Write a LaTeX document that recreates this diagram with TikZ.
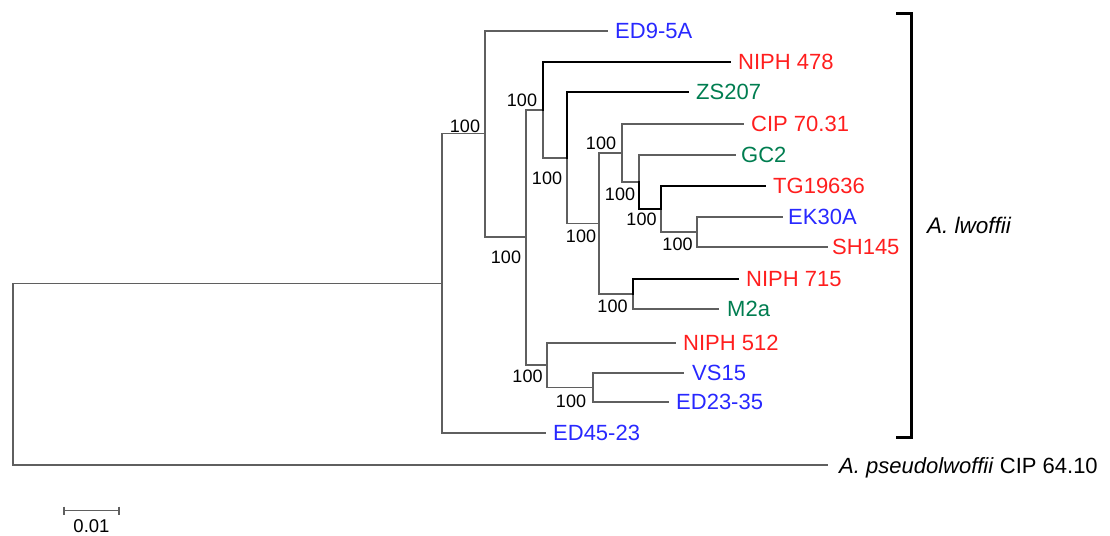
\documentclass[tikz,border=0pt]{standalone}
\usepackage{fontspec}
\setmainfont{Liberation Sans}
\usetikzlibrary{calc}
\definecolor{tblue}{RGB}{40,40,255}
\definecolor{tred}{RGB}{255,30,30}
\definecolor{tgreen}{RGB}{0,125,80}
\definecolor{tline}{RGB}{95,95,95}
\begin{document}
\begin{tikzpicture}[x=1pt,y=-1pt,
  br/.style={draw=tline,line width=1.2pt,line cap=rect},
  hb/.style={draw=black,line width=2.4pt,line cap=rect},
  leaf/.style={anchor=base west,inner sep=0pt,font=\fontsize{22}{26}\selectfont},
  boot/.style={inner sep=0pt,font=\fontsize{18}{21}\selectfont},
  brk/.style={draw=black,line width=3pt,line join=miter}]
\useasboundingbox (0,0) rectangle (1110,535);
% internal nodes
\coordinate (r)    at (13,374);
\coordinate (n442) at (442,283.5);
\coordinate (n485) at (485,133.5);
\coordinate (n526) at (526,237);
\coordinate (n543) at (543,110);
\coordinate (n567) at (567,158);
\coordinate (n599) at (599,223.5);
\coordinate (n622) at (622,153);
\coordinate (n639) at (639,182);
\coordinate (n661) at (661,209);
\coordinate (n697) at (697,232);
\coordinate (n633) at (633,294);
\coordinate (n547) at (547,365);
\coordinate (n593) at (593,387.5);
% leaf ends
\coordinate (l-ed9)  at (607,31);
\coordinate (l-n478) at (730,62);
\coordinate (l-zs)   at (688,92);
\coordinate (l-cip)  at (743,124);
\coordinate (l-gc2)  at (735,155);
\coordinate (l-tg)   at (765,186);
\coordinate (l-ek)   at (782,217);
\coordinate (l-sh)   at (827,247);
\coordinate (l-n715) at (738,279);
\coordinate (l-m2a)  at (718,309);
\coordinate (l-n512) at (675,343);
\coordinate (l-vs)   at (683,373);
\coordinate (l-ed23) at (668,402);
\coordinate (l-ed45) at (545,433);
\coordinate (l-pse)  at (827,465);
% thin branches
\draw[br] (r) |- (n442);
\draw[br] (r) |- (l-pse);
\draw[br] (n442) |- (n485);
\draw[br] (n442) |- (l-ed45);
\draw[br] (n485) |- (l-ed9);
\draw[br] (n485) |- (n526);
\draw[br] (n526) |- (n543);
\draw[br] (n526) |- (n547);
\draw[br] (n543) |- (n567);
\draw[br] (n567) |- (n599);
\draw[br] (n599) |- (n622);
\draw[br] (n599) |- (n633);
\draw[br] (n622) |- (l-cip);
\draw[br] (n622) |- (n639);
\draw[br] (n639) |- (l-gc2);
\draw[br] (n661) |- (n697);
\draw[br] (n697) |- (l-ek);
\draw[br] (n697) |- (l-sh);
\draw[br] (n633) |- (l-m2a);
\draw[br] (n547) |- (l-n512);
\draw[br] (n547) |- (n593);
\draw[br] (n593) |- (l-vs);
\draw[br] (n593) |- (l-ed23);
% thick branches
\draw[hb] (n543) |- (l-n478);
\draw[hb] (n567) |- (l-zs);
\draw[hb] (n639) |- (n661);
\draw[hb] (n661) |- (l-tg);
\draw[hb] (n633) |- (l-n715);
% leaf labels
\node[leaf,text=tblue]  (t-ed9)  at ($(l-ed9)+(8,7.9)$)  {ED9-5A};
\node[leaf,text=tred]   (t-n478) at ($(l-n478)+(8,7.9)$) {NIPH 478};
\node[leaf,text=tgreen] (t-zs)   at ($(l-zs)+(8,7.9)$)   {ZS207};
\node[leaf,text=tred]   (t-cip)  at ($(l-cip)+(8,7.9)$)  {CIP 70.31};
\node[leaf,text=tgreen] (t-gc2)  at ($(l-gc2)+(6,7.9)$)  {GC2};
\node[leaf,text=tred]   (t-tg)   at ($(l-tg)+(8,7.9)$)   {TG19636};
\node[leaf,text=tblue]  (t-ek)   at ($(l-ek)+(6,7.9)$)   {EK30A};
\node[leaf,text=tred]   (t-sh)   at ($(l-sh)+(5,7.9)$)   {SH145};
\node[leaf,text=tred]   (t-n715) at ($(l-n715)+(8,7.9)$) {NIPH 715};
\node[leaf,text=tgreen] (t-m2a)  at ($(l-m2a)+(9,7.9)$)  {M2a};
\node[leaf,text=tred]   (t-n512) at ($(l-n512)+(8,7.9)$) {NIPH 512};
\node[leaf,text=tblue]  (t-vs)   at ($(l-vs)+(9,7.9)$)   {VS15};
\node[leaf,text=tblue]  (t-ed23) at ($(l-ed23)+(8,7.9)$) {ED23-35};
\node[leaf,text=tblue]  (t-ed45) at ($(l-ed45)+(8,7.9)$) {ED45-23};
\node[leaf] (t-pse) at ($(l-pse)+(12,8)$) {\textit{A. pseudolwoffii} CIP 64.10};
% bootstrap values
\node[boot] (b485) at (465,126) {100};
\node[boot] (b543) at (522,100) {100};
\node[boot] (b622) at (601,143.5) {100};
\node[boot] (b567) at (547,178.5) {100};
\node[boot] (b526) at (506,257.5) {100};
\node[boot] (b599) at (581,236.5) {100};
\node[boot] (b639) at (620,194) {100};
\node[boot] (b661) at (641.5,219) {100};
\node[boot] (b697) at (677.5,244) {100};
\node[boot] (b633) at (612.5,306.5) {100};
\node[boot] (b547) at (527.5,376) {100};
\node[boot] (b593) at (571,401) {100};
% bracket
\coordinate (k1) at (896,14);
\coordinate (k2) at (911,14);
\coordinate (k3) at (911,437);
\coordinate (k4) at (896,437);
\draw[brk] (k1) -- (k2) -- (k3) -- (k4);
\node[leaf,font=\fontsize{22.5}{26}\selectfont\itshape] (lw) at (927,233) {A. lwoffii};
% scale bar
\coordinate (s1) at (64,510.5);
\coordinate (s2) at (119,510.5);
\draw[br,line cap=butt] (s1) -- (s2);
\draw[br,line cap=butt] ($(s1)+(0,-4)$) -- ($(s1)+(0,4)$);
\draw[br,line cap=butt] ($(s2)+(0,-4)$) -- ($(s2)+(0,4)$);
\node[boot,anchor=base,font=\fontsize{18.5}{21}\selectfont] (sc) at (91.5,532.5) {0.01};
\end{tikzpicture}
\end{document}
